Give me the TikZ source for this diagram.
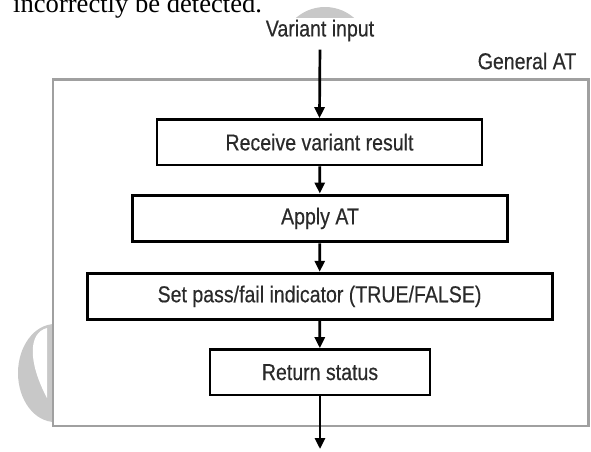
\documentclass[tikz,border=0pt]{standalone}
\usepackage{fontspec}
\setmainfont{Liberation Sans}[FakeStretch=0.85,FakeBold=0.4]
\newfontfamily\seriffont{Liberation Serif}
\usetikzlibrary{arrows.meta}
\definecolor{txt}{HTML}{2A2A2A}
\definecolor{wm}{HTML}{C8C8C8}
\definecolor{frame}{HTML}{A0A0A0}
\tikzset{
  stepbox/.style={draw=black, fill=white, text=txt, inner sep=0pt,
    font=\fontsize{23}{25}\selectfont},
  label/.style={text=txt, inner sep=0pt, font=\fontsize{23}{25}\selectfont},
  flow/.style={draw=black, line width=2.7pt,
    -{Triangle[length=11pt,width=10pt]}},
}
\begin{document}
\begin{tikzpicture}[x=1pt,y=-1pt]
\useasboundingbox (0,0) rectangle (591,451);
% stray text of the source page, cut at the top
\node[anchor=base west, inner sep=0pt, font=\seriffont\fontsize{26.6}{28}\selectfont]
  (pagetext) at (13,12) {incorrectly be detected.};
% watermark pieces
\begin{scope}
  \clip (280,0) rectangle (370,17);
  \fill[wm] (325,51.2) circle (44.2);
\end{scope}
\fill[wm] (55,373) ellipse [x radius=37, y radius=49];
\fill[white] (47,328) .. controls (28,333) and (28,362) .. (47,398) -- cycle;
% frame
\node[draw=frame, fill=white, line width=2.4pt, minimum width=535.6pt,
  minimum height=346.4pt, inner sep=0pt] (outer) at (320.5,252.5) {};
\node[label, fill=white, minimum height=26pt, inner xsep=6pt] (var) at (320,30.5) {Variant input};
\node[label] (gen) at (527,61) {General AT};
% steps
\node[stepbox, line width=2.4pt, minimum width=325pt, minimum height=45.7pt]
  (recv) at (319.5,142.2) {Receive variant result};
\node[stepbox, line width=3pt, minimum width=374.5pt, minimum height=46.7pt]
  (apply) at (320,218.4) {Apply AT};
\node[stepbox, line width=3pt, minimum width=465pt, minimum height=46pt]
  (setpf) at (319.5,296.3) {Set pass/fail indicator (TRUE/FALSE)};
\node[stepbox, line width=2.4pt, minimum width=220pt, minimum height=45.7pt]
  (ret) at (320,372.2) {Return status};
\coordinate (out) at (320,449);
% connectors
\draw[flow, shorten <=6pt] (var.south) -- (recv.north);
\draw[flow] (recv) -- (apply);
\draw[flow] (apply) -- (setpf);
\draw[flow] (setpf) -- (ret);
\draw[flow] (ret) -- (out);
\end{tikzpicture}
\end{document}
